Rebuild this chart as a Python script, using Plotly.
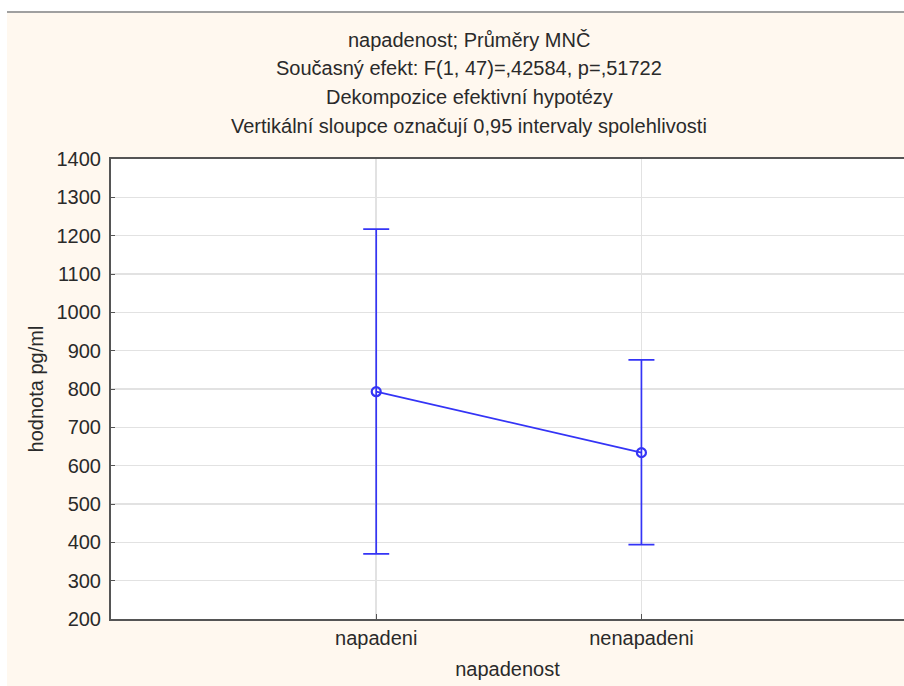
import plotly.graph_objects as go

categories = ["napadeni", "nenapadeni"]
means = [793, 634]
ci_lower = [370, 394]
ci_upper = [1217, 876]
y_ticks = [200, 300, 400, 500, 600, 700, 800, 900, 1000, 1100, 1200, 1300, 1400]
title_lines = [
    "napadenost; Průměry MNČ",
    "Současný efekt: F(1, 47)=,42584, p=,51722",
    "Dekompozice efektivní hypotézy",
    "Vertikální sloupce označují 0,95 intervaly spolehlivosti",
]

W, H = 904, 686
L, R, T, B = 111, 0, 159, 67
PH = H - T - B
PW = W - L - R

def py(wy):
    return (H - B - wy) / PH

def pxx(wx):
    return (wx - L) / PW

xs = list(range(len(categories)))
err_plus = [u - m for u, m in zip(ci_upper, means)]
err_minus = [m - l for m, l in zip(means, ci_lower)]

blue = "#3434F6"
font = "Liberation Sans, Arial, sans-serif"
txt = "#2A2A2A"

fig = go.Figure()
fig.add_trace(go.Scatter(
    x=xs, y=means, mode="lines+markers",
    line=dict(color=blue, width=1.7),
    marker=dict(symbol="circle-open", size=9, color=blue, line=dict(width=2.2, color=blue)),
    error_y=dict(type="data", array=err_plus, arrayminus=err_minus,
                 color=blue, thickness=1.7, width=13, visible=True),
    showlegend=False, hoverinfo="skip",
))

annotations = []
for t, wy in zip(title_lines, [40, 68, 97, 126]):
    annotations.append(dict(text=t, x=pxx(469), y=py(wy), xref="paper", yref="paper",
                            showarrow=False, xanchor="center", yanchor="middle",
                            font=dict(family=font, size=20, color=txt)))

shapes = [
    dict(type="rect", xref="paper", yref="paper", x0=-0.2, x1=1.05,
         y0=py(12), y1=py(-10), fillcolor="white", line=dict(width=0), layer="below"),
    dict(type="rect", xref="paper", yref="paper", x0=-0.2, x1=pxx(7),
         y0=py(700), y1=py(-10), fillcolor="white", line=dict(width=0), layer="below"),
    dict(type="line", xref="paper", yref="paper", x0=pxx(7), x1=1.05,
         y0=py(12), y1=py(12), line=dict(color="#A0A0A0", width=2)),
]

fig.update_layout(
    width=W, height=H,
    margin=dict(l=L, r=R, t=T, b=B, autoexpand=False),
    paper_bgcolor="#FFF8EF",
    plot_bgcolor="white",
    annotations=annotations,
    shapes=shapes,
    hovermode=False,
    font=dict(family=font, color=txt),
    xaxis=dict(
        range=[-1, 1.99], tickvals=xs, ticktext=categories,
        showgrid=True, gridcolor="#E2E2E2", gridwidth=1.5,
        showline=True, linecolor="#555555", linewidth=2, mirror=True,
        ticks="inside", ticklen=5, tickcolor="#555555",
        tickfont=dict(family=font, size=20, color=txt),
        title=dict(text="napadenost", font=dict(family=font, size=20, color=txt), standoff=14),
        zeroline=False,
    ),
    yaxis=dict(
        range=[200, 1400], tickvals=y_ticks,
        showgrid=True, gridcolor="#E2E2E2", gridwidth=1.5,
        showline=True, linecolor="#555555", linewidth=2, mirror=False,
        ticks="inside", ticklen=4, tickcolor="#555555",
        ticklabelstandoff=4,
        tickfont=dict(family=font, size=20, color=txt),
        title=dict(text="hodnota pg/ml", font=dict(family=font, size=20, color=txt), standoff=8),
        zeroline=False,
    ),
)

fig.write_html(
    "out.html",
    config={"displayModeBar": False, "staticPlot": True},
    post_script="document.body.style.margin='0';document.body.style.overflow='hidden';",
)
